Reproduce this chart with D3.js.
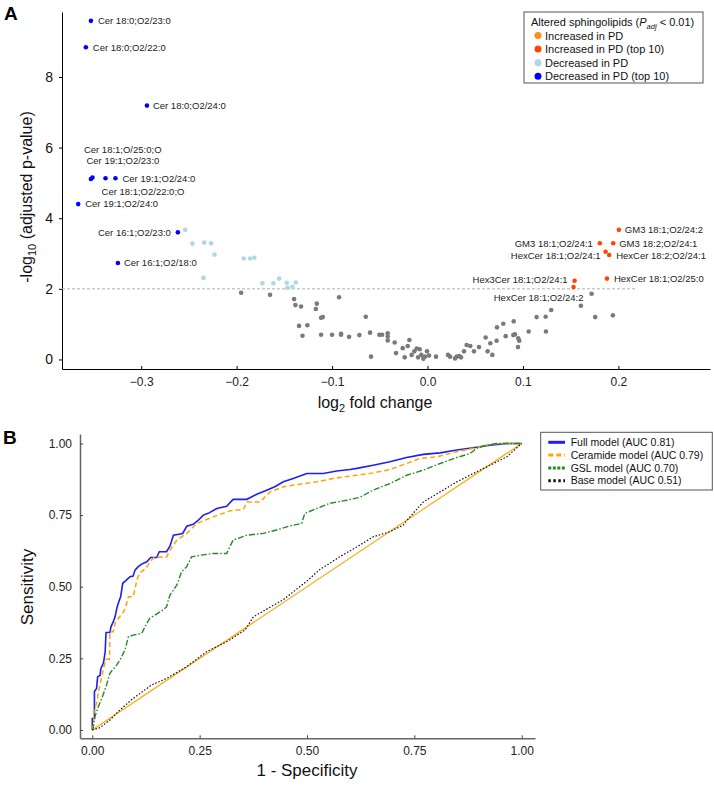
<!DOCTYPE html>
<html lang="en">
<head>
<meta charset="utf-8">
<title>Sphingolipids: volcano plot and ROC curves</title>
<script src="https://cdn.jsdelivr.net/npm/d3@7"></script>
<style>
  body { margin: 0; background: #fff; }
  svg text { font-family: "Liberation Sans", Arial, sans-serif; }
</style>
</head>
<body>
<script>

// ---------- Panel A data (log2 fold change, -log10 adjusted p) ----------
var topDecNames = ["Cer 18:0;O2/23:0", "Cer 18:0;O2/22:0", "Cer 18:0;O2/24:0", "Cer 18:1;O/25:0;O",
                   "Cer 19:1;O2/23:0", "Cer 19:1;O2/24:0", "Cer 18:1;O2/22:0;O", "Cer 19:1;O2/24:0",
                   "Cer 16:1;O2/23:0", "Cer 16:1;O2/18:0"];
var topDecFC   = [-0.3527, -0.358, -0.294, -0.3527, -0.3511, -0.327, -0.3374, -0.366, -0.2616, -0.3244];
var topDecLogP = [9.59, 8.84, 7.19, 5.11, 5.15, 5.13, 5.13, 4.40, 3.60, 2.73];

var topIncNames = ["GM3 18:1;O2/24:2", "GM3 18:1;O2/24:1", "GM3 18:2;O2/24:1", "HexCer 18:1;O2/24:1",
                   "HexCer 18:2;O2/24:1", "Hex3Cer 18:1;O2/24:1", "HexCer 18:1;O2/24:2", "HexCer 18:1;O2/25:0"];
var topIncFC   = [0.2005, 0.1806, 0.1946, 0.1866, 0.1904, 0.1541, 0.153, 0.188];
var topIncLogP = [3.67, 3.29, 3.29, 3.05, 2.96, 2.23, 2.05, 2.29];

var decFC   = [-0.2539, -0.2463, -0.234, -0.2267, -0.2232, -0.2348, -0.1925, -0.1859, -0.1814,
               -0.173, -0.1615, -0.1555, -0.1475, -0.1468, -0.1416, -0.138];
var decLogP = [3.67, 3.28, 3.31, 3.29, 2.97, 2.31, 2.86, 2.86, 2.88,
               2.16, 2.16, 2.29, 2.17, 2.03, 2.05, 2.18];

var nsFC   = [-0.1953, -0.165, -0.1398, -0.1384, -0.1325, -0.116, -0.117, -0.1115, -0.1097, -0.0927,
              -0.1346, -0.1259, -0.131, -0.1115, -0.100, -0.0906, -0.0906, -0.0822, -0.0714, -0.0647,
              -0.0602, -0.0505, -0.0476, -0.0417, -0.0417, -0.0417, -0.0344, -0.033, -0.0592, -0.026,
              -0.0207, -0.019, -0.0239, -0.0166, -0.0138, -0.0113, -0.0082, -0.0099, -0.0065, -0.0044,
              -0.0026, -0.0005, 0.0016, 0.0089, 0.0215, 0.0236, 0.0288, 0.0306, 0.0333, 0.0351,
              0.0382, 0.041, 0.0448, 0.0487, 0.0539, 0.0609, 0.063, 0.0658, 0.0679, 0.0724,
              0.0728, 0.0794, 0.0819, 0.0903, 0.0899, 0.0916, 0.0951, 0.0961, 0.0948, 0.106,
              0.1143, 0.1241, 0.1238, 0.1296, 0.1607, 0.1719, 0.1757, 0.1942];
var nsLogP = [1.89, 1.83, 1.71, 1.54, 1.50, 1.58, 1.43, 1.18, 1.20, 1.76,
              0.95, 0.97, 0.67, 0.70, 0.70, 0.73, 0.70, 0.64, 0.69, 1.21,
              0.76, 0.70, 0.70, 0.74, 0.65, 0.54, 0.48, 0.18, 0.08, 0.32,
              0.38, 0.55, 0.06, 0.13, 0.23, 0.31, 0.29, 0.06, 0.13, 0.02,
              0.08, 0.23, 0.11, 0.08, 0.13, 0.08, 0.03, 0.08, 0.10, 0.06,
              0.23, 0.41, 0.38, 0.23, 0.35, 0.62, 0.23, 0.46, 0.13, 0.53,
              0.91, 1.01, 0.66, 1.08, 0.69, 0.71, 0.60, 0.53, 0.35, 0.79,
              1.20, 0.79, 1.21, 1.40, 1.52, 1.86, 1.20, 1.25];

var xTicksA = [-0.3, -0.2, -0.1, 0.0, 0.1, 0.2];
var yTicksA = [0, 2, 4, 6, 8];
var pAdjCut = 2; // -log10(0.01)

var legendA = ["Increased in PD", "Increased in PD (top 10)", "Decreased in PD", "Decreased in PD (top 10)"];
var legendAColors = ["#ff8c1a", "#ff4500", "#add8e6", "#0000ff"];

// label nudges (pixels) and anchor for each labelled point
var topDecLabelPos = [[7, 0, "start"], [7, 0, "start"], [6, 0, "start"], [-7, -29, "start"], [-6, -17, "start"],
                      [7, 0, "start"], [-4, 13, "start"], [7, 0, "start"], [-7, 0, "end"], [6, 0, "start"]];
var topIncLabelPos = [[6, 0, "start"], [-7, 0, "end"], [6, 0, "start"], [-5, 4, "end"],
                      [7, 1, "start"], [-7, -1, "end"], [10, 11, "end"], [7, 0, "start"]];

// ---------- Panel B data (ROC curves) ----------
var models = ["Full model", "Ceramide model", "GSL model", "Base model"];
var aucs = [0.81, 0.79, 0.70, 0.51];

var fullFPR = [0, 0, 0.005, 0.005, 0.010, 0.0125, 0.018, 0.020, 0.026, 0.030,
               0.032, 0.041, 0.0435, 0.049, 0.053, 0.058, 0.063, 0.066, 0.071, 0.078,
               0.088, 0.095, 0.0995, 0.107, 0.115, 0.127, 0.136, 0.150, 0.156, 0.173,
               0.181, 0.189, 0.2105, 0.220, 0.235, 0.247, 0.2585, 0.270, 0.290, 0.313,
               0.328, 0.360, 0.383, 0.406, 0.425, 0.445, 0.468, 0.4995, 0.538, 0.569,
               0.600, 0.616, 0.654, 0.693, 0.732, 0.771, 0.810, 0.849, 0.887, 0.926,
               0.965, 1.0];
var fullTPR = [0, 0.04, 0.04, 0.134, 0.145, 0.186, 0.19, 0.215, 0.233, 0.273,
               0.34, 0.34, 0.36, 0.378, 0.395, 0.43, 0.453, 0.465, 0.512, 0.521,
               0.535, 0.537, 0.558, 0.57, 0.579, 0.587, 0.602, 0.602, 0.622, 0.622,
               0.642, 0.68, 0.686, 0.711, 0.718, 0.732, 0.75, 0.756, 0.773, 0.781,
               0.805, 0.805, 0.823, 0.837, 0.849, 0.866, 0.878, 0.895, 0.895, 0.904,
               0.909, 0.913, 0.924, 0.936, 0.951, 0.962, 0.967, 0.977, 0.985, 0.994,
               1.0, 1.0];

var cerFPR = [0, 0.004, 0.004, 0.010, 0.016, 0.022, 0.026, 0.032, 0.040, 0.041,
              0.049, 0.053, 0.061, 0.066, 0.071, 0.078, 0.084, 0.095, 0.105, 0.111,
              0.125, 0.134, 0.144, 0.173, 0.181, 0.197, 0.220, 0.243, 0.282, 0.321,
              0.352, 0.360, 0.391, 0.414, 0.445, 0.484, 0.523, 0.561, 0.600, 0.616,
              0.654, 0.693, 0.732, 0.763, 0.802, 0.849, 0.887, 0.918, 0.942, 1.0];
var cerTPR = [0, 0.04, 0.07, 0.093, 0.145, 0.186, 0.215, 0.247, 0.247, 0.343,
              0.343, 0.372, 0.39, 0.40, 0.407, 0.43, 0.465, 0.465, 0.529, 0.549,
              0.564, 0.587, 0.602, 0.604, 0.628, 0.663, 0.686, 0.721, 0.744, 0.765,
              0.77, 0.796, 0.796, 0.831, 0.849, 0.858, 0.866, 0.878, 0.886, 0.889,
              0.897, 0.909, 0.930, 0.948, 0.953, 0.971, 0.983, 0.994, 1.0, 1.0];

var gslFPR = [0, 0.002, 0.006, 0.014, 0.022, 0.032, 0.041, 0.057, 0.0645, 0.076,
              0.084, 0.095, 0.115, 0.127, 0.134, 0.146, 0.165, 0.173, 0.177, 0.181,
              0.197, 0.208, 0.220, 0.231, 0.251, 0.282, 0.313, 0.328, 0.360, 0.398,
              0.429, 0.460, 0.4875, 0.495, 0.523, 0.553, 0.592, 0.623, 0.654, 0.693,
              0.732, 0.771, 0.810, 0.849, 0.880, 0.895, 0.918, 0.942, 1.0];
var gslTPR = [0, 0.006, 0.046, 0.081, 0.11, 0.151, 0.198, 0.227, 0.244, 0.279,
              0.325, 0.331, 0.337, 0.372, 0.39, 0.401, 0.419, 0.43, 0.453, 0.471,
              0.506, 0.552, 0.57, 0.604, 0.61, 0.616, 0.616, 0.663, 0.68, 0.686,
              0.698, 0.712, 0.721, 0.756, 0.773, 0.791, 0.802, 0.812, 0.837, 0.86,
              0.889, 0.907, 0.930, 0.951, 0.965, 0.983, 0.994, 1.0, 1.0];

var baseFPR = [0, 0.018, 0.041, 0.0645, 0.095, 0.138, 0.173, 0.22, 0.266, 0.313,
               0.356, 0.375, 0.445, 0.50, 0.53, 0.577, 0.616, 0.654, 0.693, 0.724,
               0.74, 0.771, 0.81, 0.849, 0.887, 0.926, 0.965, 1.0];
var baseTPR = [0, 0.008, 0.035, 0.07, 0.11, 0.157, 0.18, 0.221, 0.273, 0.308,
               0.349, 0.395, 0.455, 0.52, 0.56, 0.605, 0.639, 0.674, 0.692, 0.715,
               0.744, 0.796, 0.831, 0.866, 0.895, 0.924, 0.953, 1.0];

var ticksB = [0, 0.25, 0.5, 0.75, 1.0];

//Width and height
var w = 714;
var h = 788;
var dejavu = '"DejaVu Sans", sans-serif';

var svg = d3.select("body")
            .append("svg")
            .attr("width", w)
            .attr("height", h);

function zip(a, b) {
    return a.map(function(d, i) { return [d, b[i]]; });
}

// =================== Panel A ===================
var pad = 0.017;
var allFC = topDecFC.concat(topIncFC, decFC, nsFC);
var fcMin = d3.min(allFC), fcMax = d3.max(allFC);

var xA = d3.scaleLinear().domain([fcMin - pad, 0.296]).range([62, 710]);
var yA = d3.scaleLinear().domain([-0.27, 9.84]).range([369, 12]);

var gxA = svg.append("g")
    .attr("transform", "translate(0," + 369 + ")")
    .call(d3.axisBottom(xA).tickValues(xTicksA).tickSizeInner(-3).tickSizeOuter(0)
          .tickPadding(8.5).tickFormat(d3.format(".1f")));
gxA.selectAll("text").attr("font-family", dejavu).attr("font-size", "12px").attr("fill", "#222");

var gyA = svg.append("g")
    .attr("transform", "translate(62,0)")
    .call(d3.axisLeft(yA).tickValues(yTicksA).tickSizeInner(3).tickSizeOuter(0)
          .tickPadding(6).tickFormat(d3.format("d")));
gyA.selectAll("text").attr("font-family", '"Liberation Sans", Arial, sans-serif')
   .attr("font-size", "14px").attr("fill", "#111");

// threshold line
svg.append("line")
   .attr("x1", xA(fcMin - pad)).attr("x2", xA(fcMax + pad))
   .attr("y1", yA(pAdjCut)).attr("y2", yA(pAdjCut))
   .attr("stroke", "#b0b0b0").attr("stroke-width", 1)
   .attr("stroke-dasharray", "3,2");

function drawPoints(fc, lp, color) {
    svg.append("g").selectAll("circle")
       .data(zip(fc, lp))
       .enter()
       .append("circle")
       .attr("cx", function(d) { return xA(d[0]); })
       .attr("cy", function(d) { return yA(d[1]); })
       .attr("r", 2.3)
       .attr("fill", color);
}
drawPoints(nsFC, nsLogP, "#7a7a7a");
drawPoints(decFC, decLogP, "#add8e6");
drawPoints(topIncFC, topIncLogP, "#ff4500");
drawPoints(topDecFC, topDecLogP, "#0000ff");

function drawLabels(names, fc, lp, pos) {
    svg.append("g").selectAll("text")
       .data(names)
       .enter()
       .append("text")
       .text(function(d) { return d; })
       .attr("x", function(d, i) { return xA(fc[i]) + pos[i][0]; })
       .attr("y", function(d, i) { return yA(lp[i]) + pos[i][1]; })
       .attr("dy", "0.35em")
       .attr("text-anchor", function(d, i) { return pos[i][2]; })
       .attr("font-size", "9.5px")
       .attr("fill", "#222");
}
drawLabels(topDecNames, topDecFC, topDecLogP, topDecLabelPos);
drawLabels(topIncNames, topIncFC, topIncLogP, topIncLabelPos);

// legend A
var legA = svg.append("g");
legA.append("rect").attr("x", 524).attr("y", 12).attr("width", 179).attr("height", 71)
    .attr("fill", "#fff").attr("stroke", "#555").attr("stroke-width", 1);
var legTitle = legA.append("text").attr("x", 531).attr("y", 25.5).attr("font-size", "11px").attr("fill", "#111");
legTitle.append("tspan").text("Altered sphingolipids (");
legTitle.append("tspan").attr("font-style", "italic").text("P");
legTitle.append("tspan").attr("font-style", "italic").attr("font-size", "7.5px").attr("dy", 3).text("adj");
legTitle.append("tspan").attr("dy", -3).text(" < 0.01)");
legA.selectAll("circle").data(legendA).enter().append("circle")
    .attr("cx", 538).attr("cy", function(d, i) { return 35.5 + i * 13.6; })
    .attr("r", 3.5).attr("fill", function(d, i) { return legendAColors[i]; });
legA.selectAll("text.item").data(legendA).enter().append("text")
    .attr("class", "item")
    .attr("x", 545).attr("y", function(d, i) { return 39.5 + i * 13.6; })
    .attr("font-size", "11px").attr("fill", "#111")
    .text(function(d) { return d; });

// axis titles A
var xtA = svg.append("text").attr("x", 375).attr("y", 408).attr("text-anchor", "middle")
    .attr("font-size", "16px").attr("fill", "#111");
xtA.append("tspan").text("log");
xtA.append("tspan").attr("font-size", "11px").attr("dy", 4).text("2");
xtA.append("tspan").attr("dy", -4).text(" fold change");

var ytA = svg.append("text").attr("transform", "translate(32,197) rotate(-90)")
    .attr("text-anchor", "middle").attr("font-size", "16px").attr("fill", "#111");
ytA.append("tspan").text("-log");
ytA.append("tspan").attr("font-size", "11px").attr("dy", 4).text("10");
ytA.append("tspan").attr("dy", -4).text(" (adjusted p-value)");

svg.append("text").attr("x", 4).attr("y", 20).attr("font-size", "19px")
   .attr("font-weight", "bold").text("A");

// =================== Panel B ===================
var xB = d3.scaleLinear().domain([-0.0286, 1.031]).range([80, 535]);
var yB = d3.scaleLinear().domain([-0.029, 1.033]).range([738.3, 434]);

var gxB = svg.append("g")
    .attr("transform", "translate(0,738.3)")
    .call(d3.axisBottom(xB).tickValues(ticksB).tickSizeInner(-3).tickSizeOuter(0)
          .tickPadding(8).tickFormat(d3.format(".2f")));
var gyB = svg.append("g")
    .attr("transform", "translate(80,0)")
    .call(d3.axisLeft(yB).tickValues(ticksB).tickSizeInner(-3).tickSizeOuter(0)
          .tickPadding(8).tickFormat(d3.format(".2f")));
[gxB, gyB].forEach(function(g) {
    g.select(".domain").attr("stroke", "#666").attr("stroke-width", 1.5);
    g.selectAll(".tick line").attr("stroke", "#444");
    g.selectAll("text").attr("font-family", dejavu).attr("font-size", "12px").attr("fill", "#222");
});

// chance diagonal
svg.append("line")
   .attr("x1", xB(0)).attr("y1", yB(0)).attr("x2", xB(1)).attr("y2", yB(1))
   .attr("stroke", "#ffa500").attr("stroke-width", 1.1);

var rocLine = d3.line()
    .x(function(d) { return xB(d[0]); })
    .y(function(d) { return yB(d[1]); });

var rocSeries = [zip(fullFPR, fullTPR), zip(cerFPR, cerTPR), zip(gslFPR, gslTPR), zip(baseFPR, baseTPR)];
var rocColors = ["#1f1ff2", "#ffa500", "#228b22", "#111"];
var rocDash = [null, "5,3", "6,2,1.5,2", "1.5,1.8"];
var rocWidth = [1.6, 1.5, 1.4, 1.2];

svg.append("g").selectAll("path")
   .data(rocSeries)
   .enter()
   .append("path")
   .attr("d", rocLine)
   .attr("fill", "none")
   .attr("stroke", function(d, i) { return rocColors[i]; })
   .attr("stroke-width", function(d, i) { return rocWidth[i]; })
   .attr("stroke-dasharray", function(d, i) { return rocDash[i]; });

// legend B
var legB = svg.append("g");
legB.append("rect").attr("x", 540.7).attr("y", 432.3).attr("width", 171.6).attr("height", 57.7)
    .attr("fill", "#fff").attr("stroke", "#555").attr("stroke-width", 1);
var legDash = [null, "5,3", "3,1.5", "2.5,2.5"];
legB.selectAll("line").data(models).enter().append("line")
    .attr("x1", 548.3).attr("x2", 565)
    .attr("y1", function(d, i) { return 442.3 + i * 12.8; })
    .attr("y2", function(d, i) { return 442.3 + i * 12.8; })
    .attr("stroke", function(d, i) { return rocColors[i]; })
    .attr("stroke-width", 3)
    .attr("stroke-dasharray", function(d, i) { return legDash[i]; });
legB.selectAll("text").data(models).enter().append("text")
    .attr("x", 570.7).attr("y", function(d, i) { return 446 + i * 12.8; })
    .attr("font-size", "10.5px").attr("fill", "#111")
    .text(function(d, i) { return d + " (AUC " + aucs[i].toFixed(2) + ")"; });

// axis titles B
svg.append("text").attr("x", 307).attr("y", 776).attr("text-anchor", "middle")
   .attr("font-family", dejavu).attr("font-size", "17px").attr("fill", "#111")
   .text("1 - Specificity");
svg.append("text").attr("transform", "translate(33,587) rotate(-90)")
   .attr("text-anchor", "middle")
   .attr("font-family", dejavu).attr("font-size", "17px").attr("fill", "#111")
   .text("Sensitivity");

svg.append("text").attr("x", 3).attr("y", 444).attr("font-size", "19px")
   .attr("font-weight", "bold").text("B");

</script>
</body>
</html>
